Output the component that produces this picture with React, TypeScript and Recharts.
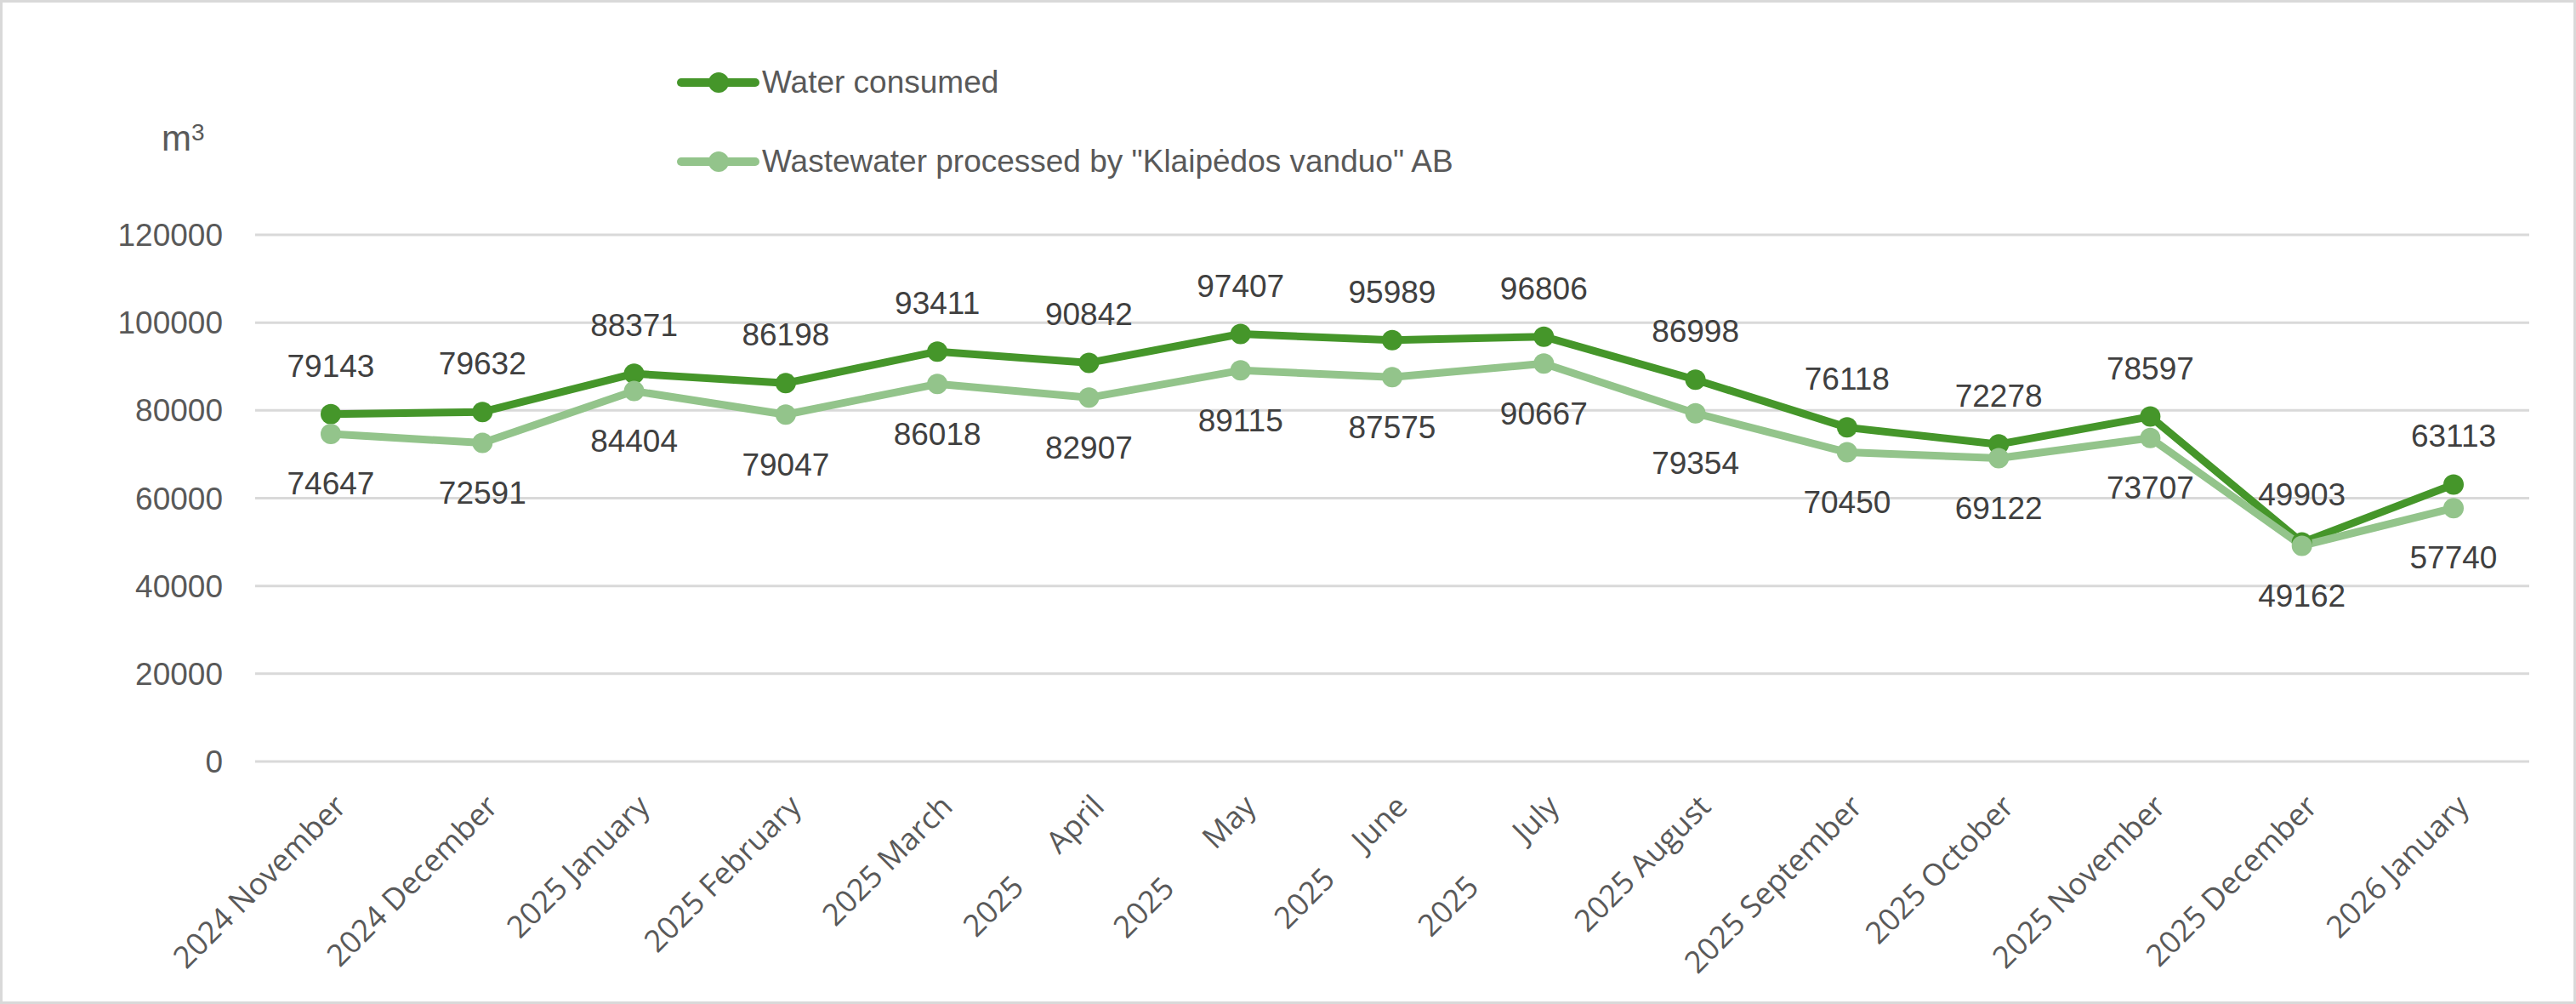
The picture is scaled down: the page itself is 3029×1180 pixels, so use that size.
import React from "react";
import {
  LineChart,
  Line,
  XAxis,
  YAxis,
  CartesianGrid,
  Legend,
  LabelList,
} from "recharts";

const NB = "\u00A0";

const months = [
  "2024 November",
  "2024 December",
  "2025 January",
  "2025 February",
  "2025 March",
  `2025${NB.repeat(6)}April`,
  `2025${NB.repeat(7)}May`,
  `2025${NB.repeat(5)}June`,
  `2025${NB.repeat(8)}July`,
  "2025 August",
  "2025 September",
  "2025 October",
  "2025 November",
  "2025 December",
  "2026 January",
];

const waterConsumed = [
  79143, 79632, 88371, 86198, 93411, 90842, 97407, 95989, 96806, 86998, 76118,
  72278, 78597, 49903, 63113,
];

const wastewaterProcessed = [
  74647, 72591, 84404, 79047, 86018, 82907, 89115, 87575, 90667, 79354, 70450,
  69122, 73707, 49162, 57740,
];

const yTicks = [0, 20000, 40000, 60000, 80000, 100000, 120000];

const seriesOrder = ["water", "waste"];

const data = months.map((month, i) => ({
  month,
  water: waterConsumed[i],
  waste: wastewaterProcessed[i],
}));

const DARK = "#45962a"; // dark green
const LIGHT = "#93c48b"; // light green
const AXIS_TEXT = "#595959";
const LABEL_TEXT = "#404040";
const FONT = "'Liberation Sans', Arial, sans-serif";

function MonthTick({ x, y, payload }: any) {
  return (
    <g transform={`translate(${x + 2},${y})`}>
      <text
        transform="rotate(-45)"
        textAnchor="end"
        dy="0.71em"
        fill={AXIS_TEXT}
        fontSize={36}
        fontFamily="'Open Sans', sans-serif"
        style={{ whiteSpace: "pre" }}
      >
        {payload.value}
      </text>
    </g>
  );
}

function UnitLabel({ viewBox }: any) {
  const vx = viewBox ? viewBox.x : 0;
  const vy = viewBox ? viewBox.y : 276;
  return (
    <text x={vx + 190} y={vy - 99} fill={AXIS_TEXT} fontFamily={FONT} fontSize={42}>
      m
      <tspan dy={-12} fontSize={28}>
        3
      </tspan>
    </text>
  );
}

function LegendBox({ payload }: any) {
  const items = [...(payload || [])].sort(
    (a: any, b: any) => seriesOrder.indexOf(a.dataKey) - seriesOrder.indexOf(b.dataKey)
  );
  return (
    <div style={{ fontFamily: FONT }}>
      {items.map((entry: any) => (
        <div
          key={entry.value}
          style={{ display: "flex", alignItems: "center", height: 93 }}
        >
          <svg width={106} height={30} style={{ display: "block" }}>
            <line
              x1={11}
              y1={15}
              x2={98}
              y2={15}
              stroke={entry.color}
              strokeWidth={10}
              strokeLinecap="round"
            />
            <circle cx={55} cy={15} r={12} fill={entry.color} />
          </svg>
          <span style={{ fontSize: 37, color: AXIS_TEXT, whiteSpace: "nowrap" }}>
            {entry.value}
          </span>
        </div>
      ))}
    </div>
  );
}

export default function App() {
  return (
    <div
      style={{
        position: "absolute",
        left: 0,
        top: 0,
        width: 3029,
        height: 1180,
        background: "#ffffff",
        fontFamily: FONT,
      }}
    >
      <LineChart
        width={3029}
        height={1180}
        data={data}
        margin={{ top: 276, right: 55, bottom: 255, left: 0 }}
      >
        <CartesianGrid vertical={false} stroke="#d9d9d9" strokeWidth={3} />
        <XAxis
          dataKey="month"
          height={30}
          interval={0}
          axisLine={false}
          tickLine={false}
          tickSize={0}
          tickMargin={37}
          padding={{ left: 89, right: 89 }}
          tick={<MonthTick />}
        />
        <YAxis
          width={300}
          domain={[0, 120000]}
          ticks={yTicks}
          axisLine={false}
          tickLine={false}
          tickSize={0}
          tickMargin={38}
          tick={{ fill: AXIS_TEXT, fontSize: 37, fontFamily: FONT }}
          label={<UnitLabel />}
        />
        <Legend
          layout="horizontal"
          verticalAlign="middle"
          align="center"
          wrapperStyle={{ top: 50, left: 790, width: 1300 }}
          content={<LegendBox />}
        />
        <Line
          name="Water consumed"
          dataKey="water"
          type="linear"
          stroke={DARK}
          strokeWidth={9}
          strokeLinejoin="round"
          dot={{ r: 12, fill: DARK, stroke: DARK, strokeWidth: 0 }}
          activeDot={false}
          isAnimationActive={false}
        >
          <LabelList
            dataKey="water"
            position="top"
            offset={44}
            fill={LABEL_TEXT}
            fontSize={37}
            fontFamily={FONT}
          />
        </Line>
        <Line
          name='Wastewater processed by "Klaipėdos vanduo" AB'
          dataKey="waste"
          type="linear"
          stroke={LIGHT}
          strokeWidth={9}
          strokeLinejoin="round"
          dot={{ r: 12, fill: LIGHT, stroke: LIGHT, strokeWidth: 0 }}
          activeDot={false}
          isAnimationActive={false}
        >
          <LabelList
            dataKey="waste"
            position="bottom"
            offset={45}
            fill={LABEL_TEXT}
            fontSize={37}
            fontFamily={FONT}
          />
        </Line>
      </LineChart>
      <div
        style={{
          position: "absolute",
          left: 0,
          top: 0,
          width: 3029,
          height: 1180,
          boxSizing: "border-box",
          border: "3px solid #d9d9d9",
          pointerEvents: "none",
        }}
      />
    </div>
  );
}
